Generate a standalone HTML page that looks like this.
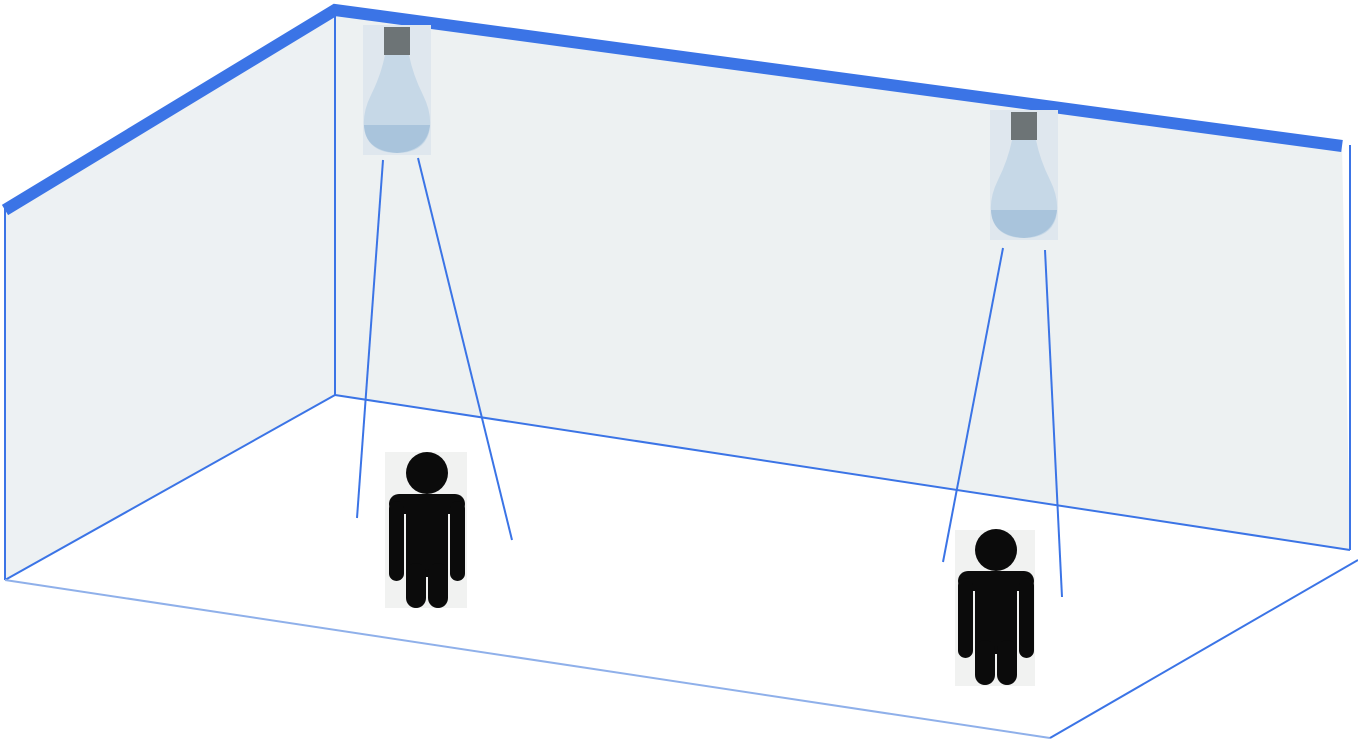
<!DOCTYPE html>
<html><head><meta charset="utf-8"><style>html,body{margin:0;padding:0;background:#fff;}svg{display:block}</style></head>
<body>
<svg width="1358" height="740" viewBox="0 0 1358 740">
<defs>
<g id="person">
  <circle cx="0" cy="20" r="21" fill="#0b0b0b"/>
  <rect x="-38" y="41" width="76" height="20" rx="10" fill="#0b0b0b"/>
  <rect x="-38" y="48" width="15" height="80" rx="7.5" fill="#0b0b0b"/>
  <rect x="23" y="48" width="15" height="80" rx="7.5" fill="#0b0b0b"/>
  <rect x="-21" y="42" width="42" height="82" fill="#0b0b0b"/>
  <rect x="-21" y="110" width="20" height="45" rx="10" fill="#0b0b0b"/>
  <rect x="1" y="110" width="20" height="45" rx="10" fill="#0b0b0b"/>
</g>
<g id="bulb">
  <rect x="0" y="0" width="68" height="130" fill="#dfe7ee"/>
  <rect x="21" y="2" width="26" height="28" fill="#6d7476"/>
  <path d="M22 30 L46 30 Q50 50 60 70 Q70 90 66 108 Q60 128 34 128 Q8 128 2 108 Q-2 90 8 70 Q18 50 22 30 Z" fill="#c6d8e7"/>
  <path d="M1 100 Q2 126 34 128 Q64 126 67 100 Z" fill="#a9c4dc"/>
</g>
</defs>
<polygon points="5,207 335,8 335,395 5,580" fill="#edf1f3"/>
<polygon points="335,8 1342,145 1350,550 335,395" fill="#edf1f2"/>
<g stroke="#3b74e6" stroke-width="2" fill="none">
  <line x1="5" y1="207" x2="5" y2="580"/>
  <line x1="335" y1="8" x2="335" y2="395"/>
  <line x1="1350" y1="145" x2="1350" y2="550"/>
  <line x1="335" y1="395" x2="1350" y2="550"/>
  <line x1="5" y1="580" x2="335" y2="395"/>
  <line x1="5" y1="580" x2="1050" y2="738" stroke="#8fb0ea"/>
  <line x1="1050" y1="738" x2="1358" y2="560"/>
</g>
<polyline points="5,210 335,10 1342,146" stroke="#3b74e6" stroke-width="12" fill="none"/>
<use href="#bulb" x="363" y="25"/>
<use href="#bulb" x="990" y="110"/>
<g stroke="#3b74e6" stroke-width="2">
  <line x1="383" y1="160" x2="357" y2="518"/>
  <line x1="418" y1="158" x2="512" y2="540"/>
  <line x1="1003" y1="248" x2="943" y2="562"/>
  <line x1="1045" y1="250" x2="1062" y2="597"/>
</g>
<rect x="385" y="452" width="82" height="156" fill="#f1f2f1"/>
<use href="#person" x="427" y="453"/>
<rect x="955" y="530" width="80" height="156" fill="#f1f2f1"/>
<use href="#person" x="996" y="530"/>
</svg>
</body></html>
